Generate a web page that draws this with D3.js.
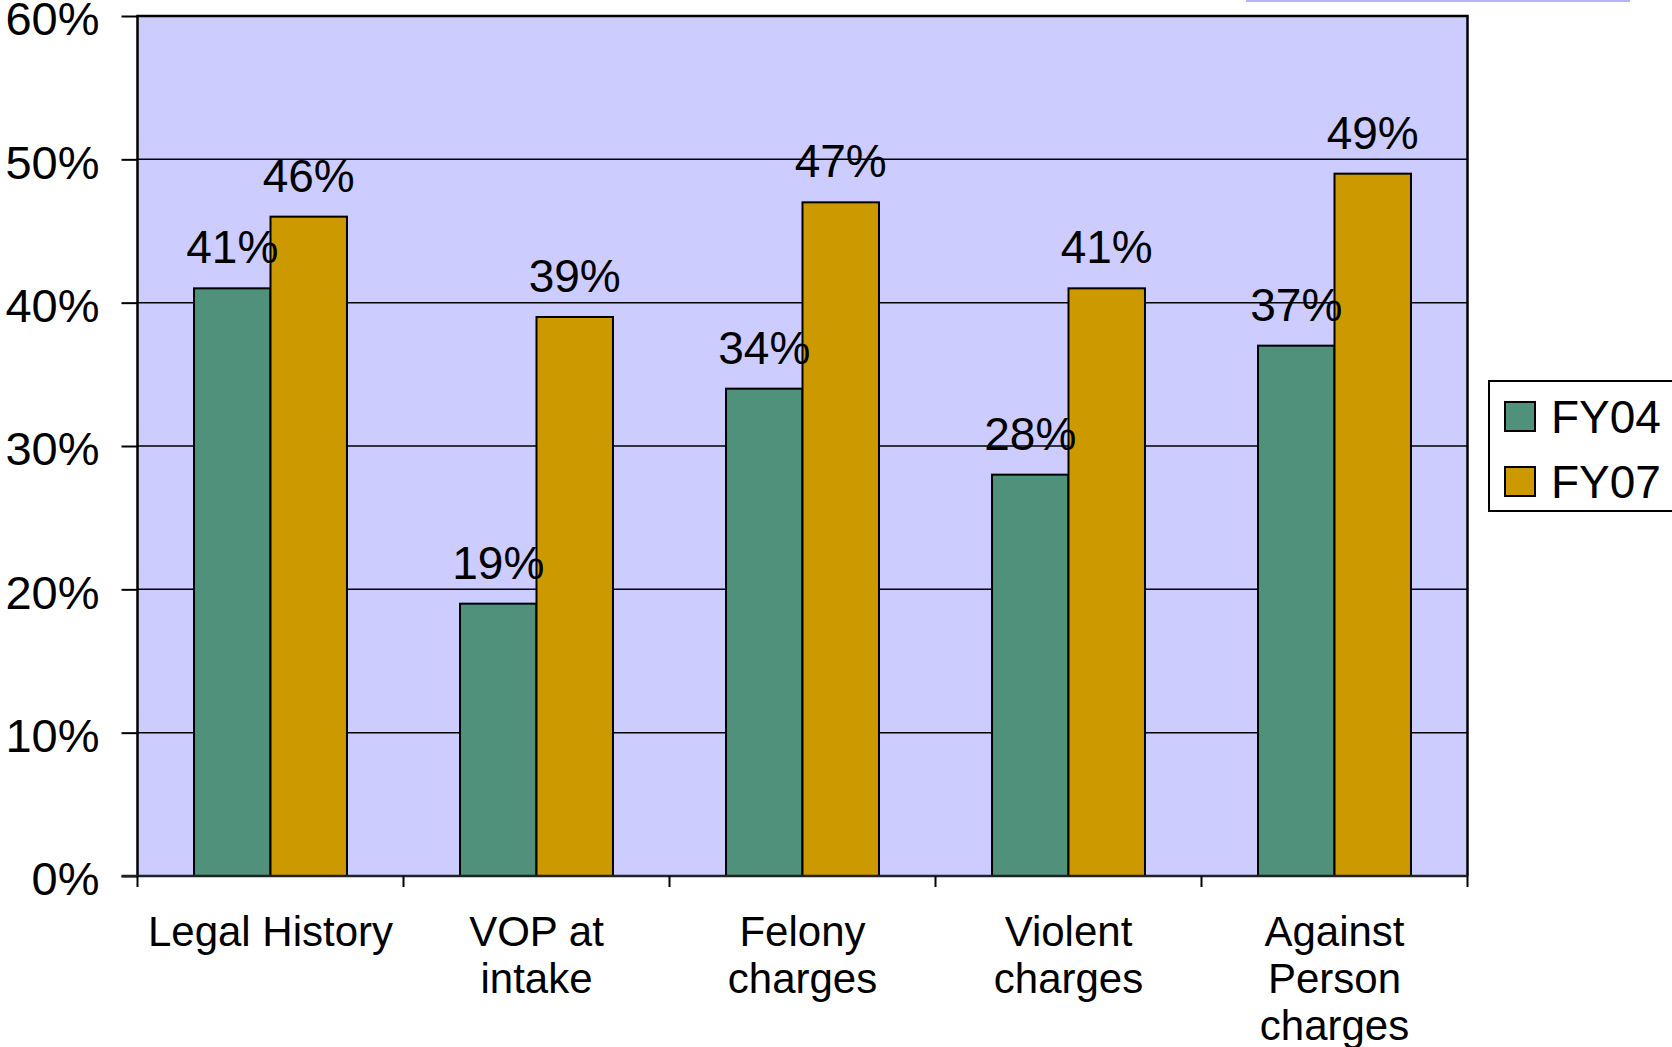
<!DOCTYPE html>
<html>
<head>
<meta charset="utf-8">
<script src="https://cdn.jsdelivr.net/npm/d3@7"></script>
<style>
  html, body { margin: 0; padding: 0; background: #fff; overflow: hidden; }
  svg { display: block; font-family: "Liberation Sans", Arial, sans-serif; }
</style>
</head>
<body>
<div id="chart"></div>
<script>
// -------------------------------------------------------------------------
// Data
const categories = ['Legal History', 'VOP at intake', 'Felony charges', 'Violent charges', 'Against Person charges'];
const categoryLines = [['Legal History'], ['VOP at', 'intake'], ['Felony', 'charges'], ['Violent', 'charges'], ['Against', 'Person', 'charges']];
const seriesNames = ['FY04', 'FY07'];
const fy04 = [41, 19, 34, 28, 37];
const fy07 = [46, 39, 47, 41, 49];
const yTicks = [0, 10, 20, 30, 40, 50, 60];

// -------------------------------------------------------------------------
// Layout
const width = 1672;
const height = 1047;
const plot = { left: 137.5, top: 16, right: 1467.5, bottom: 876 };
const colors = { FY04: '#50917c', FY07: '#cc9900' };

const svg = d3.select('#chart').append('svg')
  .attr('width', width)
  .attr('height', height);

const x = d3.scaleBand()
  .domain(categories)
  .range([plot.left, plot.right])
  .paddingInner(0.425)
  .paddingOuter(0.2125);

const xSeries = d3.scaleBand()
  .domain(seriesNames)
  .range([0, x.bandwidth()]);

const y = d3.scaleLinear()
  .domain([0, 60])
  .range([plot.bottom, plot.top]);

// stray header strip in the top right corner
svg.append('rect')
  .attr('x', 1246).attr('y', 0)
  .attr('width', 384).attr('height', 2)
  .attr('fill', '#b3b3f5');

// plot background
svg.append('rect')
  .attr('x', plot.left).attr('y', plot.top)
  .attr('width', plot.right - plot.left)
  .attr('height', plot.bottom - plot.top)
  .attr('fill', '#ccccff');

// gridlines
svg.append('g')
  .selectAll('line')
  .data(yTicks.filter(d => d > 0))
  .enter()
  .append('line')
  .attr('x1', plot.left).attr('x2', plot.right)
  .attr('y1', d => y(d)).attr('y2', d => y(d))
  .attr('stroke', '#000')
  .attr('stroke-width', 1.5);

// bars
const rows = categories.map((c, i) => ({ category: c, FY04: fy04[i], FY07: fy07[i] }));
const groups = svg.append('g')
  .selectAll('g')
  .data(rows)
  .enter()
  .append('g')
  .attr('transform', d => `translate(${x(d.category)},0)`);

groups.selectAll('rect')
  .data(d => seriesNames.map(s => ({ series: s, value: d[s] })))
  .enter()
  .append('rect')
  .attr('x', d => xSeries(d.series))
  .attr('y', d => y(d.value))
  .attr('width', xSeries.bandwidth())
  .attr('height', d => y(0) - y(d.value))
  .attr('fill', d => colors[d.series])
  .attr('stroke', '#000')
  .attr('stroke-width', 2);

groups.selectAll('text')
  .data(d => seriesNames.map(s => ({ series: s, value: d[s] })))
  .enter()
  .append('text')
  .attr('x', d => xSeries(d.series) + xSeries.bandwidth() / 2)
  .attr('y', d => y(d.value) - 25)
  .attr('text-anchor', 'middle')
  .attr('font-size', 46)
  .attr('fill', '#000')
  .text(d => `${d.value}%`);

// plot frame (left, top, right)
svg.append('path')
  .attr('d', `M${plot.left},${plot.bottom}V${plot.top}H${plot.right}V${plot.bottom}`)
  .attr('fill', 'none')
  .attr('stroke', '#000')
  .attr('stroke-width', 2.5);

// y axis
const yAxis = svg.append('g')
  .attr('transform', `translate(${plot.left},0)`)
  .call(d3.axisLeft(y).tickValues(yTicks).tickSize(16).tickPadding(22).tickFormat(d => `${d}%`));
yAxis.select('.domain').remove();
yAxis.selectAll('line').attr('stroke', '#000').attr('stroke-width', 2);
yAxis.selectAll('text')
  .attr('font-size', 47)
  .attr('font-family', '"Liberation Sans", Arial, sans-serif')
  .attr('fill', '#000')
  .attr('dy', '0.4em');

// x axis: ticks at category boundaries
const edges = d3.range(categories.length + 1).map(i => plot.left + i * x.step());
svg.append('line')
  .attr('x1', plot.left - 16).attr('x2', plot.right)
  .attr('y1', plot.bottom).attr('y2', plot.bottom)
  .attr('stroke', '#222')
  .attr('stroke-width', 2.5);
svg.append('g')
  .selectAll('line')
  .data(edges)
  .enter()
  .append('line')
  .attr('x1', d => d).attr('x2', d => d)
  .attr('y1', plot.bottom).attr('y2', plot.bottom + 11)
  .attr('stroke', '#000')
  .attr('stroke-width', 2);

// category labels
const catLabels = svg.append('g')
  .selectAll('text')
  .data(categories)
  .enter()
  .append('text')
  .attr('x', d => x(d) + x.bandwidth() / 2)
  .attr('y', 946)
  .attr('text-anchor', 'middle')
  .attr('font-size', 42)
  .attr('fill', '#000');
catLabels.each(function(d, i) {
  d3.select(this).selectAll('tspan')
    .data(categoryLines[i])
    .enter()
    .append('tspan')
    .attr('x', x(d) + x.bandwidth() / 2)
    .attr('dy', (t, j) => j === 0 ? 0 : 47)
    .text(t => t);
});

// legend
const legend = svg.append('g');
legend.append('rect')
  .attr('x', 1489).attr('y', 381)
  .attr('width', 220).attr('height', 130)
  .attr('fill', '#fff')
  .attr('stroke', '#000')
  .attr('stroke-width', 2);
const legendItems = legend.selectAll('g')
  .data(seriesNames)
  .enter()
  .append('g')
  .attr('transform', (d, i) => `translate(1505,${402 + i * 65})`);
legendItems.append('rect')
  .attr('width', 30).attr('height', 29)
  .attr('fill', d => colors[d])
  .attr('stroke', '#000')
  .attr('stroke-width', 2);
legendItems.append('text')
  .attr('x', 46).attr('y', 31)
  .attr('font-size', 46)
  .attr('fill', '#000')
  .text(d => d);
</script>
</body>
</html>
